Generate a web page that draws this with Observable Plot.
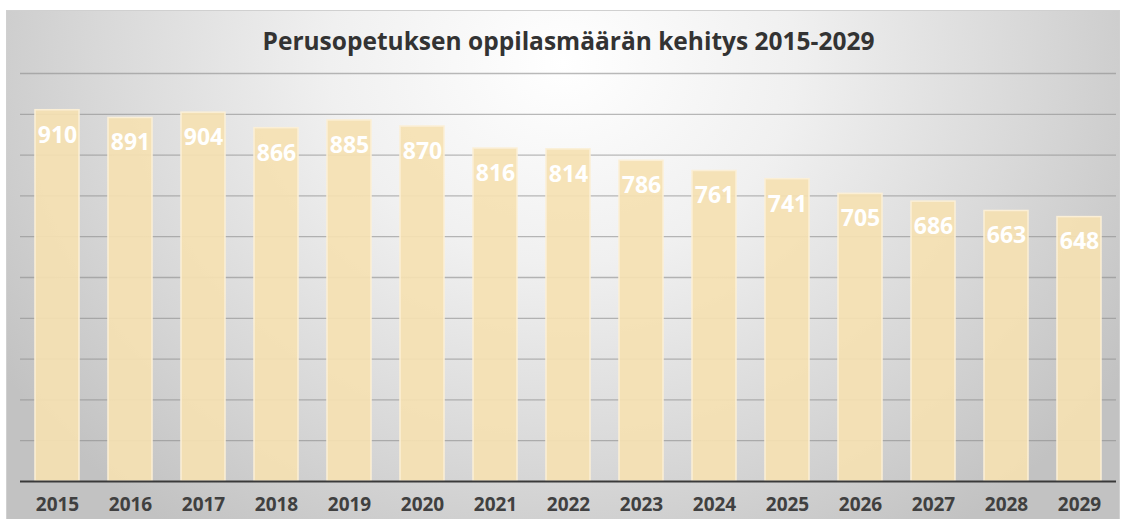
<!DOCTYPE html>
<html><head><meta charset="utf-8">
<script src="https://cdn.jsdelivr.net/npm/d3@7"></script>
<script src="https://cdn.jsdelivr.net/npm/@observablehq/plot@0.6"></script>
<style>
html,body{margin:0;padding:0;background:#fff;}
#wrap{position:relative;width:1124px;height:519px;overflow:hidden;}
#panel{position:absolute;left:6px;top:10px;width:1112px;height:520px;border:1px solid #d0d0d0;
background:radial-gradient(ellipse 60% 110% at 50% 10%, #ffffff 0%, #f0f0f0 35%, #d8d8d8 70%, #c2c2c2 100%);}
#chart{position:absolute;left:0;top:0;}
</style></head>
<body><div id="wrap"><div id="panel"></div><div id="chart"></div></div>
<script>
const years = ["2015","2016","2017","2018","2019","2020","2021","2022","2023","2024","2025","2026","2027","2028","2029"];
const students = [910,891,904,866,885,870,816,814,786,761,741,705,686,663,648];
const title = "Perusopetuksen oppilasmäärän kehitys 2015-2029";
const gridTicks = [100,200,300,400,500,600,700,800,900,1000];

const data = years.map((y,i)=>({year:y, value:students[i]}));
const font = "'Open Sans', Lato, sans-serif";

const chart = Plot.plot({
  width:1124, height:519,
  marginLeft:20, marginRight:8, marginTop:73, marginBottom:38,
  style:{background:"transparent", fontFamily:font},
  x:{domain:years, paddingInner:0.4, paddingOuter:0.2, label:null},
  y:{domain:[0,1000], axis:null},
  marks:[
    Plot.ruleY(gridTicks,{stroke:"#8c8c8c", strokeOpacity:0.6, strokeWidth:1.3}),
    Plot.barY(data,{x:"year", y:"value", fill:"#f5e1b2", fillOpacity:0.92, stroke:"#fbefd6", strokeWidth:1.5}),
    Plot.ruleY([0],{stroke:"#3a3a3a", strokeWidth:2}),
    Plot.text(data,{x:"year", y:"value", text:d=>String(d.value), dy:25, fill:"#ffffff", fontSize:23, fontWeight:"bold"}),
    Plot.axisX({tickSize:0, tickPadding:16, fontSize:19, fontWeight:"bold", fill:"#404040", label:null}),
    Plot.text([title],{frameAnchor:"top", lineAnchor:"middle", dy:-31, fontSize:24.5, fontWeight:"bold", fill:"#333333"})
  ]
});
document.getElementById("chart").appendChild(chart);
</script></body></html>
